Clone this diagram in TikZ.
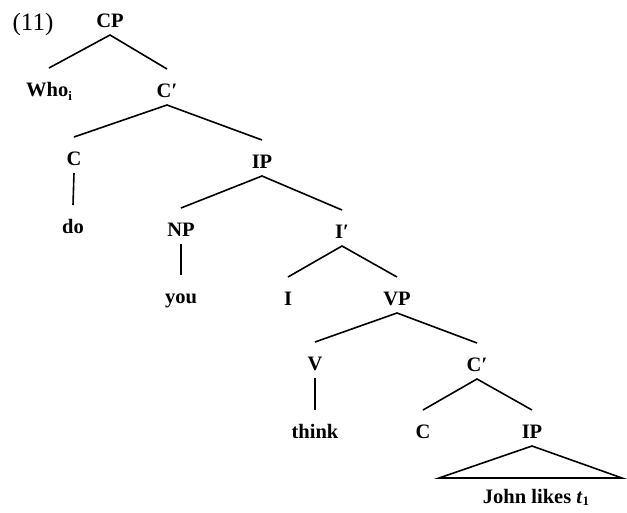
\documentclass[tikz,border=0pt]{standalone}
\usepackage{fontspec}
\setmainfont{Liberation Serif}
\usepackage{tikz}
\usetikzlibrary{positioning}

\tikzset{
  cat/.style={anchor=base, font=\bfseries\fontsize{20.5}{23}\selectfont,
    text height=24pt, text depth=4pt, inner sep=4pt, outer sep=0pt},
  branch/.style={line width=1.6pt},
}

\begin{document}
\begin{tikzpicture}[x=1pt,y=-1pt]
\useasboundingbox (0,0) rectangle (627,512);
% example number
\node[anchor=base, font=\fontsize{25}{28}\selectfont, inner sep=0pt] (exnum) at (33,30) {(11)};
% upper clause
\node[cat] (cp) at (110,27) {CP};
\node[cat] (who) at (49,96) {Who\raisebox{-0.45ex}{\fontsize{13}{14}\selectfont i}};
\node[cat] (cbar) at (167,97) {C′};
\node[cat] (c) at (74,165) {C};
\node[cat] (ip) at (262,168) {IP};
\node[cat] (do) at (73,233) {do};
\node[cat] (np) at (181,236) {NP};
\node[cat] (ibar) at (342,238) {I′};
\node[cat] (you) at (181,303) {you};
\node[cat] (infl) at (288,305) {I};
\node[cat] (vp) at (397,305) {VP};
% embedded clause
\node[cat] (verb) at (315,370) {V};
\node[cat] (cbarb) at (477,371) {C′};
\node[cat] (think) at (315,438) {think};
\node[cat] (cb) at (423,438) {C};
\node[cat] (ipb) at (532,438) {IP};
\node[cat] (john) at (536,503) {John likes \textit{t}\raisebox{-0.3ex}{\fontsize{13}{14}\selectfont 1}};
% triangle base
\coordinate (tl) at (439,478);
\coordinate (tr) at (622,478);

\draw[branch] (who.north) -- (cp.south) -- (cbar.north);
\draw[branch] (c.north) -- (cbar.south) -- (ip.north);
\draw[branch] (c.south) -- (do.north);
\draw[branch] (np.north) -- (ip.south) -- (ibar.north);
\draw[branch] (np.south) -- (you.north);
\draw[branch] (infl.north) -- (ibar.south) -- (vp.north);
\draw[branch] (verb.north) -- (vp.south) -- (cbarb.north);
\draw[branch] (verb.south) -- (think.north);
\draw[branch] (cb.north) -- (cbarb.south) -- (ipb.north);
\draw[branch] (ipb.south) -- (tl) -- (tr) -- cycle;
\end{tikzpicture}
\end{document}
